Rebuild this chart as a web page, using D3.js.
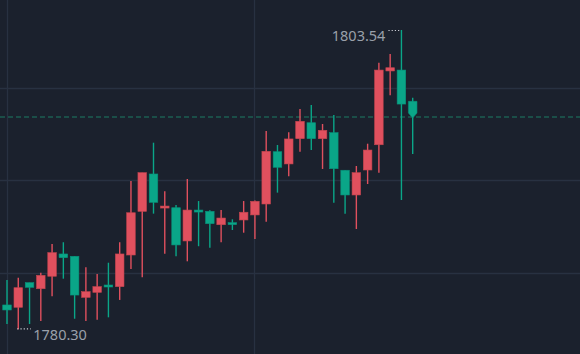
<!DOCTYPE html>
<html>
<head>
<meta charset="utf-8">
<script src="https://cdn.jsdelivr.net/npm/d3@7"></script>
<style>
  html, body { margin:0; padding:0; background:#1b212d; }
  #chart { width:580px; height:354px; }
</style>
</head>
<body>
<div id="chart"></div>
<script>
// candles: open / close / high / low (red = up, green = down)
const opens  = [1782.19,1782.01,1783.92,1783.45,1784.42,1786.15,1785.97,1782.78,1783.17,1783.74,
                1783.61,1786.07,1789.46,1792.36,1789.72,1789.74,1787.16,1789.56,1789.46,1788.42,
                1788.58,1788.79,1789.18,1790.03,1794.09,1793.14,1795.10,1796.34,1795.10,1795.57,
                1792.65,1790.73,1792.67,1794.63,1800.36,1800.43,1798.00];
const closes = [1781.80,1783.53,1783.56,1784.49,1786.25,1785.86,1782.96,1783.22,1783.61,1783.61,
                1786.15,1789.35,1792.46,1790.16,1789.87,1786.85,1789.56,1789.43,1788.50,1788.94,
                1788.50,1789.39,1790.24,1794.12,1792.88,1795.08,1796.45,1795.10,1795.75,1792.77,
                1790.73,1792.46,1794.22,1800.43,1800.61,1797.79,1796.78];
const highs  = [1784.13,1784.31,1783.92,1784.70,1786.92,1787.06,1785.97,1785.11,1784.59,1785.47,
                1787.06,1791.82,1792.46,1794.79,1791.02,1789.95,1791.97,1790.26,1789.54,1789.56,
                1788.84,1790.26,1790.30,1795.70,1794.61,1795.60,1797.41,1797.72,1796.24,1796.94,
                1792.65,1792.98,1794.71,1801.00,1801.68,1803.54,1798.28];
const lows   = [1780.71,1780.30,1780.71,1780.94,1782.86,1784.23,1781.12,1780.94,1781.05,1781.23,
                1782.58,1784.98,1784.34,1789.28,1786.17,1785.97,1785.58,1786.75,1786.64,1787.06,
                1788.01,1787.80,1787.31,1788.66,1790.91,1792.18,1794.09,1794.22,1792.75,1790.13,
                1789.28,1788.09,1791.58,1792.46,1798.47,1790.34,1793.91];

const gridValues = [1784.67, 1791.89, 1799.04];
const gridIndexes = [0, 22];
const lastPrice = 1796.78;

const width = 580, height = 354;
const upColor = "#e0505e", downColor = "#0aa688";
const upEdge = "#c4454f", downEdge = "#08917a";

const data = opens.map((o,i) => ({ i:i, open:o, close:closes[i], high:highs[i], low:lows[i] }));

const x = d3.scaleLinear().domain([0, data.length-1]).range([7, 412.7]);
const y = d3.scaleLinear().domain([1780.30, 1803.54]).range([329.3, 30]);
const step = x(1) - x(0);
const bodyW = step*0.76;

const svg = d3.select('#chart').append('svg')
  .attr('width',width)
  .attr('height',height)
  .style('display','block');

svg.append('rect').attr('width',width).attr('height',height).attr('fill','#1b212d');

//grid
svg.append('g').selectAll('line.h')
  .data(gridValues)
  .enter().append('line')
  .attr('x1',0).attr('x2',width)
  .attr('y1',d => Math.round(y(d))+0.5).attr('y2',d => Math.round(y(d))+0.5)
  .style('stroke','#283141').style('stroke-width',1.3);

svg.append('g').selectAll('line.v')
  .data(gridIndexes)
  .enter().append('line')
  .attr('x1',d => Math.round(x(d)-0.5)+0.5).attr('x2',d => Math.round(x(d)-0.5)+0.5)
  .attr('y1',0).attr('y2',height)
  .style('stroke','#283141').style('stroke-width',1.3);

//last price line
svg.append('line')
  .attr('x1',0).attr('x2',width)
  .attr('y1',y(lastPrice)).attr('y2',y(lastPrice))
  .style('stroke','#1c5d52')
  .style('stroke-width',1.5)
  .style('stroke-dasharray','5 3');

const isUp = d => d.close >= d.open && !(d.close === d.open);
const color = d => d.close > d.open ? upColor : downColor;
const edge = d => d.close > d.open ? upEdge : downEdge;

const candles = svg.append('g').selectAll('.candle')
  .data(data)
  .enter().append('g')
  .attr('class','candle');

candles.append('line')
  .attr('x1',d => x(d.i)).attr('x2',d => x(d.i))
  .attr('y1',d => y(d.high)).attr('y2',d => y(d.low))
  .style('stroke',color)
  .style('stroke-width',1.4);

const last = data.length-1;
candles.filter(d => d.i !== last).append('rect')
  .attr('x',d => x(d.i)-bodyW/2)
  .attr('width',bodyW)
  .attr('y',d => y(Math.max(d.open,d.close)))
  .attr('height',d => Math.max(2, Math.abs(y(d.open)-y(d.close))))
  .style('fill',color)
  .style('stroke',edge)
  .style('stroke-width',0.6);

// latest candle has a pointed bottom at the current price
candles.filter(d => d.i === last).append('path')
  .attr('d',d => {
    const l = x(d.i)-bodyW/2, r = x(d.i)+bodyW/2;
    const t = y(d.open), b = y(d.close);
    return `M${l},${t}H${r}V${b-4}L${x(d.i)},${b+1}L${l},${b-4}Z`;
  })
  .style('fill',color)
  .style('stroke',edge)
  .style('stroke-width',0.6);

//high / low labels
const hiIdx = d3.maxIndex(data, d => d.high);
const loIdx = d3.minIndex(data, d => d.low);
const hi = data[hiIdx], lo = data[loIdx];

svg.append('line')
  .attr('x1',x(hi.i)-13).attr('x2',x(hi.i)-0.5)
  .attr('y1',y(hi.high)+0.5).attr('y2',y(hi.high)+0.5)
  .style('stroke','#c9ccd3').style('stroke-width',1.2).style('stroke-dasharray','1.2 2');
svg.append('text')
  .attr('x',x(hi.i)-16).attr('y',y(hi.high)+10.5)
  .attr('text-anchor','end')
  .style('font-family','"Noto Sans", sans-serif')
  .style('font-size','14.5px')
  .style('fill','#9aa0aa')
  .text(d3.format('.2f')(hi.high));

svg.append('line')
  .attr('x1',x(lo.i)-1).attr('x2',x(lo.i)+12.5)
  .attr('y1',y(lo.low)-0.5).attr('y2',y(lo.low)-0.5)
  .style('stroke','#c9ccd3').style('stroke-width',1.2).style('stroke-dasharray','1.2 2');
svg.append('text')
  .attr('x',x(lo.i)+15).attr('y',y(lo.low)+10.5)
  .attr('text-anchor','start')
  .style('font-family','"Noto Sans", sans-serif')
  .style('font-size','14.5px')
  .style('fill','#9aa0aa')
  .text(d3.format('.2f')(lo.low));
</script>
</body>
</html>
